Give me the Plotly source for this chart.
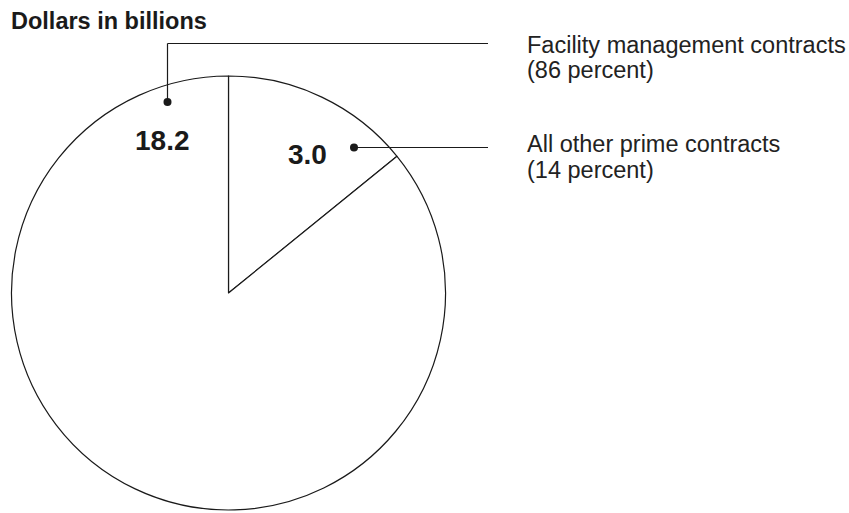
import plotly.graph_objects as go

W, H = 849, 513

categories = ["All other prime contracts", "Facility management contracts"]
values = [3.0, 18.2]
value_labels = ["3.0", "18.2"]
percents = ["(14 percent)", "(86 percent)"]
title_text = "Dollars in billions"


def px(x):
    return x / W


def py(y):
    return 1 - y / H


fig = go.Figure()
fig.add_trace(go.Pie(
    labels=categories,
    values=values,
    sort=False,
    direction="clockwise",
    rotation=0,
    textinfo="none",
    hoverinfo="none",
    showlegend=False,
    marker=dict(colors=["white", "white"], line=dict(color="#1a1a1a", width=1.2)),
    domain=dict(x=[px(10), px(447)], y=[py(510), py(76)]),
))

FONT = "Liberation Sans, Arial, Helvetica, sans-serif"
annots = []
# title
annots.append(dict(x=px(9), y=py(21.5), text="<b>" + title_text + "</b>", xanchor="left",
                   yanchor="middle", showarrow=False, font=dict(size=23.5, color="#1a1a1a", family=FONT)))
# value labels
annots.append(dict(x=px(307.5), y=py(154), text="<b>" + value_labels[0] + "</b>", xanchor="center",
                   yanchor="middle", showarrow=False, font=dict(size=28, color="#1a1a1a", family=FONT)))
annots.append(dict(x=px(162.5), y=py(140.5), text="<b>" + value_labels[1] + "</b>", xanchor="center",
                   yanchor="middle", showarrow=False, font=dict(size=28, color="#1a1a1a", family=FONT)))
# category labels (right side)
label_pos = [(144, 170), (44.5, 70)]
for i in range(2):
    y1, y2 = label_pos[i]
    annots.append(dict(x=px(525), y=py(y1), text=categories[i], xanchor="left", yanchor="middle",
                       showarrow=False, font=dict(size=23.5, color="#222222", family=FONT)))
    annots.append(dict(x=px(525), y=py(y2), text=percents[i], xanchor="left", yanchor="middle",
                       showarrow=False, font=dict(size=23.5, color="#222222", family=FONT)))

LC = "#1a1a1a"
shapes = [
    # leader for 18.2
    dict(type="line", xref="paper", yref="paper", x0=px(167.5), y0=py(102), x1=px(167.5), y1=py(43.5),
         line=dict(color=LC, width=1.2)),
    dict(type="line", xref="paper", yref="paper", x0=px(167.5), y0=py(43.5), x1=px(488), y1=py(43.5),
         line=dict(color=LC, width=1.2)),
    dict(type="circle", xref="paper", yref="paper", x0=px(163.5), y0=py(98), x1=px(171.5), y1=py(106),
         fillcolor=LC, line=dict(color=LC, width=0)),
    # leader for 3.0
    dict(type="line", xref="paper", yref="paper", x0=px(354), y0=py(147.5), x1=px(488), y1=py(147.5),
         line=dict(color=LC, width=1.2)),
    dict(type="circle", xref="paper", yref="paper", x0=px(350), y0=py(143.5), x1=px(358), y1=py(151.5),
         fillcolor=LC, line=dict(color=LC, width=0)),
]

fig.update_layout(
    width=W, height=H,
    margin=dict(l=0, r=0, t=0, b=0),
    paper_bgcolor="white",
    plot_bgcolor="white",
    annotations=annots,
    shapes=shapes,
)

fig.write_html(
    "out.html",
    config={"displayModeBar": False},
    post_script="document.body.style.margin='0';document.body.style.overflow='hidden';",
)
